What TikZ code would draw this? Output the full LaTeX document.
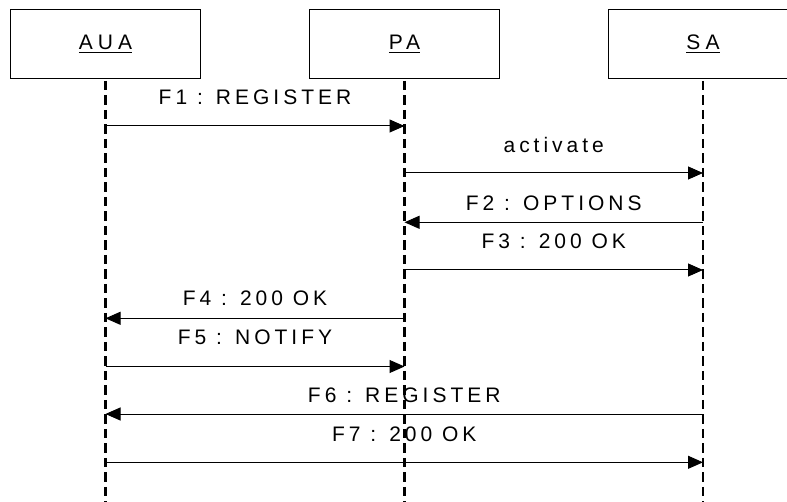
\documentclass[tikz,border=0pt]{standalone}
\usepackage{fontspec}
\setmainfont{Liberation Sans}
\newfontfamily\msgfont{Liberation Sans}[LetterSpace=19]
\newfontfamily\actfont{Liberation Sans}[LetterSpace=24]
\usetikzlibrary{arrows.meta}
\newcommand\actorlabel[1]{\setbox0\hbox{#1}\rlap{\rule[-3.4pt]{\wd0}{1.3pt}}\box0}
\begin{document}
\begin{tikzpicture}[x=1pt,y=-1pt,
  actor/.style={draw=black, line width=1pt, minimum width=190pt, minimum height=68.3pt,
    inner sep=0pt, text height=15pt, text depth=3.3pt,
    font=\actfont\fontsize{21}{25}\selectfont},
  life/.style={line width=2.2pt, dash pattern=on 9.5pt off 5pt, shorten <=2pt},
  msg/.style={line width=1pt, -{Triangle[length=15pt,width=13pt]}},
  lbl/.style={anchor=base, inner sep=0pt, font=\msgfont\fontsize{21}{25}\selectfont}]
\useasboundingbox (0,0) rectangle (787,502);
\clip (0,0) rectangle (787,502);
% actors
\node[actor] (aua) at (105.5,44.15) {\actorlabel{AUA}};
\node[actor] (pa)  at (404.5,44.15) {\actorlabel{PA}};
\node[actor] (sa)  at (703,44.15)   {\actorlabel{SA}};
% lifeline ends
\coordinate (auaend) at (105.5,503);
\coordinate (paend)  at (404.5,503);
\coordinate (saend)  at (703,503);
\draw[life] (aua.south) -- (auaend);
\draw[life] (pa.south) -- (paend);
\draw[life] (sa.south) -- (saend);
% message points
\coordinate (a1) at (105.5,126);   \coordinate (p1) at (404.5,126);
\coordinate (p2) at (404.5,173);   \coordinate (s2) at (703,173);
\coordinate (s3) at (703,222.3);   \coordinate (p3) at (404.5,222.3);
\coordinate (p4) at (404.5,270);   \coordinate (s4) at (703,270);
\coordinate (p5) at (404.5,318.3); \coordinate (a5) at (105.5,318.3);
\coordinate (a6) at (105.5,366.5); \coordinate (p6) at (404.5,366.5);
\coordinate (s7) at (703,414);     \coordinate (a7) at (105.5,414);
\coordinate (a8) at (105.5,462.3); \coordinate (s8) at (703,462.3);
\draw[msg] (a1) -- (p1);
\draw[msg] (p2) -- (s2);
\draw[msg] (s3) -- (p3);
\draw[msg] (p4) -- (s4);
\draw[msg] (p5) -- (a5);
\draw[msg] (a6) -- (p6);
\draw[msg] (s7) -- (a7);
\draw[msg] (a8) -- (s8);
% labels
\node[lbl] (t1) at (255,105)   {F1 : REGISTER};
\node[lbl] (t2) at (553.75,152.7) {activate};
\node[lbl] (t3) at (553.75,210.7) {F2 : OPTIONS};
\node[lbl] (t4) at (553.75,248.3) {F3 : 200 OK};
\node[lbl] (t5) at (255,306)   {F4 : 200 OK};
\node[lbl] (t6) at (255,345)   {F5 : NOTIFY};
\node[lbl] (t7) at (404.25,402.3) {F6 : REGISTER};
\node[lbl] (t8) at (404.25,441.7) {F7 : 200 OK};
\end{tikzpicture}
\end{document}
